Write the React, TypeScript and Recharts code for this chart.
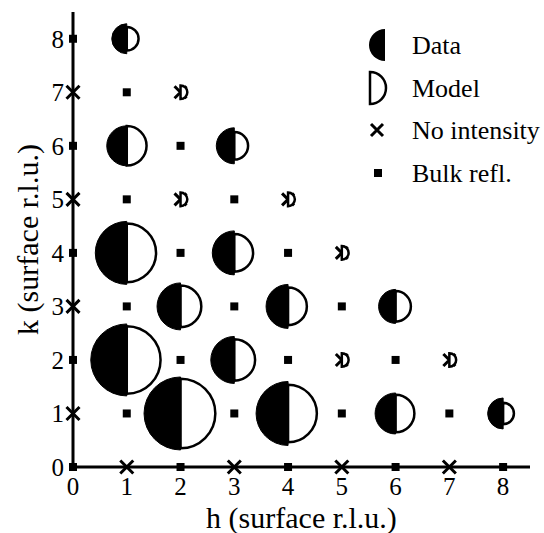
import { ScatterChart, Scatter, XAxis, YAxis, Label, Legend } from 'recharts';

const H_TICKS = [0, 1, 2, 3, 4, 5, 6, 7, 8];
const K_TICKS = [0, 1, 2, 3, 4, 5, 6, 7, 8];

// reflections with measured intensity: data vs model amplitude (half-disc radius)
const measured = [
  { h: 1, k: 8, data: 15.5, model: 13 },
  { h: 1, k: 6, data: 20.5, model: 21 },
  { h: 3, k: 6, data: 18.5, model: 15 },
  { h: 1, k: 4, data: 32, model: 30.5 },
  { h: 3, k: 4, data: 22.5, model: 20 },
  { h: 2, k: 3, data: 24, model: 22 },
  { h: 4, k: 3, data: 22.5, model: 20 },
  { h: 6, k: 3, data: 17.5, model: 16.5 },
  { h: 1, k: 2, data: 36.5, model: 35 },
  { h: 3, k: 2, data: 24, model: 22 },
  { h: 2, k: 1, data: 37, model: 36 },
  { h: 4, k: 1, data: 32.5, model: 30 },
  { h: 6, k: 1, data: 21, model: 20 },
  { h: 8, k: 1, data: 16, model: 12 },
];

// no measured intensity, small model amplitude
const weak = [
  { h: 2, k: 7, model: 8 },
  { h: 2, k: 5, model: 8 },
  { h: 4, k: 5, model: 8 },
  { h: 5, k: 4, model: 8 },
  { h: 5, k: 2, model: 8 },
  { h: 7, k: 2, model: 8 },
];

const noIntensity = [
  { h: 0, k: 7 }, { h: 0, k: 5 }, { h: 0, k: 3 }, { h: 0, k: 1 },
  { h: 1, k: 0 }, { h: 3, k: 0 }, { h: 5, k: 0 }, { h: 7, k: 0 },
];

const bulk = [
  { h: 0, k: 8 }, { h: 0, k: 6 }, { h: 0, k: 4 }, { h: 0, k: 2 }, { h: 0, k: 0 },
  { h: 1, k: 7 }, { h: 1, k: 5 }, { h: 1, k: 3 }, { h: 1, k: 1 },
  { h: 2, k: 6 }, { h: 2, k: 4 }, { h: 2, k: 2 }, { h: 2, k: 0 },
  { h: 3, k: 5 }, { h: 3, k: 3 }, { h: 3, k: 1 },
  { h: 4, k: 4 }, { h: 4, k: 2 }, { h: 4, k: 0 },
  { h: 5, k: 3 }, { h: 5, k: 1 },
  { h: 6, k: 2 }, { h: 6, k: 0 },
  { h: 7, k: 1 },
  { h: 8, k: 0 },
];

const FONT = '"Liberation Serif", "Times New Roman", serif';

const leftHalf = (cx: number, cy: number, r: number) =>
  `M${cx},${cy - r} A${r},${r} 0 0 0 ${cx},${cy + r} Z`;
const rightHalf = (cx: number, cy: number, r: number) =>
  `M${cx},${cy - r} A${r},${r} 0 0 1 ${cx},${cy + r} Z`;

function Cross({ cx, cy, s }: { cx: number; cy: number; s: number }) {
  return (
    <path
      d={`M${cx - s},${cy - s} L${cx + s},${cy + s} M${cx - s},${cy + s} L${cx + s},${cy - s}`}
      stroke="#000"
      strokeWidth={3}
      fill="none"
    />
  );
}

function HalfDiscs(props: any) {
  const { cx, cy, payload } = props;
  return (
    <g>
      <path d={rightHalf(cx, cy, payload.model - 1.2)} fill="#fff" stroke="#000" strokeWidth={2.5} />
      <path d={leftHalf(cx, cy, payload.data - 0.5)} fill="#000" stroke="#000" strokeWidth={1} />
    </g>
  );
}

function WeakMark(props: any) {
  const { cx, cy, payload } = props;
  return (
    <g>
      <Cross cx={cx} cy={cy} s={6} />
      <path d={rightHalf(cx, cy, payload.model - 1.2)} fill="#fff" stroke="#000" strokeWidth={2.5} />
    </g>
  );
}

function CrossMark(props: any) {
  return <Cross cx={props.cx} cy={props.cy} s={6.5} />;
}

function BulkMark(props: any) {
  const { cx, cy } = props;
  return <rect x={cx - 4} y={cy - 4} width={8} height={8} fill="#000" />;
}

const LEGEND_ITEMS = ['Data', 'Model', 'No intensity', 'Bulk refl.'];

function renderLegend() {
  const rows = [45, 88, 130, 173];
  return (
    <svg width={544} height={200} style={{ display: 'block' }}>
      <path d={leftHalf(385, rows[0], 16)} fill="#000" />
      <path d={rightHalf(370, rows[1], 16)} fill="#fff" stroke="#000" strokeWidth={2.5} />
      <Cross cx={377} cy={rows[2]} s={6} />
      <rect x={374} y={rows[3] - 4} width={8} height={8} fill="#000" />
      {LEGEND_ITEMS.map((t, i) => (
        <text key={t} x={412} y={rows[i] + 9} fontFamily={FONT} fontSize={26} fill="#000">
          {t}
        </text>
      ))}
    </svg>
  );
}

const tickStyle = { fontFamily: FONT, fontSize: 25, fill: '#000' };

export default function App() {
  return (
    <div style={{ position: 'absolute', left: 0, top: 0, background: '#fff' }}>
      <ScatterChart width={544} height={533} margin={{ top: 12, right: 14, left: 0, bottom: 0 }}>
        <XAxis
          dataKey="h"
          type="number"
          domain={[0, 8.5]}
          ticks={H_TICKS}
          interval={0}
          height={66}
          tickLine={false}
          tickSize={0}
          tickMargin={10}
          tick={tickStyle}
          axisLine={{ stroke: '#000', strokeWidth: 3 }}
        >
          <Label
            value="h (surface r.l.u.)"
            position="insideBottom"
            offset={5}
            style={{ fontFamily: FONT, fontSize: 30, fill: '#000' }}
          />
        </XAxis>
        <YAxis
          dataKey="k"
          type="number"
          domain={[0, 8.5]}
          ticks={K_TICKS}
          interval={0}
          width={73}
          tickLine={false}
          tickSize={0}
          tickMargin={9}
          tick={tickStyle}
          axisLine={{ stroke: '#000', strokeWidth: 3 }}
        >
          <Label
            value="k (surface r.l.u.)"
            angle={-90}
            position="insideLeft"
            offset={27}
            style={{ fontFamily: FONT, fontSize: 30, fill: '#000', textAnchor: 'middle' }}
          />
        </YAxis>
        <Legend
          layout="vertical"
          align="center"
          verticalAlign="middle"
          content={renderLegend}
          wrapperStyle={{ left: 0, top: 0, width: 544, height: 200, pointerEvents: 'none' }}
        />
        <Scatter name="Bulk refl." data={bulk} shape={BulkMark} isAnimationActive={false} />
        <Scatter name="No intensity" data={noIntensity} shape={CrossMark} isAnimationActive={false} />
        <Scatter name="Model only" data={weak} shape={WeakMark} isAnimationActive={false} />
        <Scatter name="Data" data={measured} shape={HalfDiscs} isAnimationActive={false} />
      </ScatterChart>
    </div>
  );
}
